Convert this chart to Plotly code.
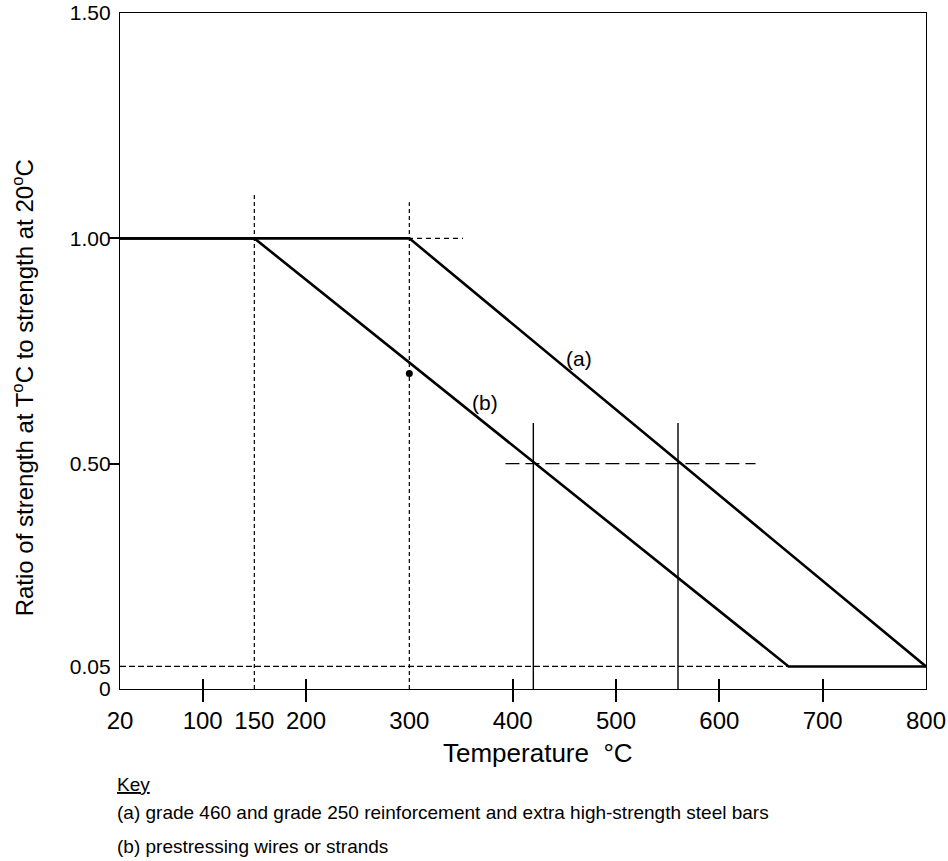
import plotly.graph_objects as go

# ---------------- data ----------------
temp_a = [20, 300, 800]
ratio_a = [1.0, 1.0, 0.05]
temp_b = [20, 150, 667, 800]
ratio_b = [1.0, 1.0, 0.05, 0.05]

x_tick_vals = [20, 100, 150, 200, 300, 400, 500, 600, 700, 800]
x_tick_marks = [100, 200, 400, 500, 600, 700]
y_tick_vals = [0, 0.05, 0.5, 1.0, 1.5]
y_tick_text = ["0", "0.05", "0.50", "1.00", "1.50"]
y_tick_marks = [0.5, 1.0]

# dashed guide lines
guide_v150_x = [150, 150]
guide_v150_y = [0, 1.10]
guide_v300_x = [300, 300]
guide_v300_y = [0, 1.08]
guide_h100_x = [20, 352]
guide_h100_y = [1.0, 1.0]
guide_h005_x = [20, 667]
guide_h005_y = [0.05, 0.05]
guide_h050_x = [393, 635]
guide_h050_y = [0.5, 0.5]
# thin solid verticals where the curves cross 0.5
cross_b_x = [420, 420]
cross_a_x = [560, 560]
cross_y = [0, 0.59]

# stray dot in the scan
dot_x = [300]
dot_y = [0.70]

label_a = dict(x=464, y=0.733, text="(a)")
label_b = dict(x=373, y=0.636, text="(b)")

x_title = "Temperature  °C"
y_title = "Ratio of strength at T<sup>o</sup>C to strength at 20<sup>o</sup>C"
key_title = "<u>Key</u>"
key_a = "(a) grade 460 and grade 250 reinforcement and extra high-strength steel bars"
key_b = "(b) prestressing wires or strands"

FONT = "Liberation Sans, Arial, Helvetica, sans-serif"

fig = go.Figure()

def guide(x, y, dash, width=1.2):
    fig.add_trace(go.Scatter(x=x, y=y, mode="lines",
                             line=dict(color="black", width=width, dash=dash),
                             hoverinfo="skip", showlegend=False))

guide(guide_v150_x, guide_v150_y, "4px,3px")
guide(guide_v300_x, guide_v300_y, "4px,3px")
guide(guide_h100_x, guide_h100_y, "5px,4px")
guide(guide_h005_x, guide_h005_y, "6px,3px")
guide(guide_h050_x, guide_h050_y, "14px,6px")
guide(cross_b_x, cross_y, "solid", 1.4)
guide(cross_a_x, cross_y, "solid", 1.4)

fig.add_trace(go.Scatter(x=temp_a, y=ratio_a, mode="lines",
                         line=dict(color="black", width=2.6),
                         name="(a)", showlegend=False))
fig.add_trace(go.Scatter(x=temp_b, y=ratio_b, mode="lines",
                         line=dict(color="black", width=2.6),
                         name="(b)", showlegend=False))
fig.add_trace(go.Scatter(x=dot_x, y=dot_y, mode="markers",
                         marker=dict(color="black", size=7),
                         hoverinfo="skip", showlegend=False))
# invisible trace so the overlay tick axis is drawn
fig.add_trace(go.Scatter(x=[20], y=[0], xaxis="x2", mode="markers",
                         marker=dict(opacity=0), hoverinfo="skip",
                         showlegend=False))

for lab in (label_a, label_b):
    fig.add_annotation(x=lab["x"], y=lab["y"], text=lab["text"],
                       showarrow=False, font=dict(size=21, color="black", family=FONT))

fig.update_layout(
    width=948, height=861,
    margin=dict(l=120, r=22, t=13, b=172),
    paper_bgcolor="white", plot_bgcolor="white",
    font=dict(family=FONT, color="black"),
    xaxis=dict(
        range=[20, 800], tickvals=x_tick_vals, automargin=False,
        ticks="outside", ticklen=10, tickcolor="rgba(0,0,0,0)",
        ticklabeloverflow="allow",
        minor=dict(tickvals=x_tick_marks, ticks="outside", ticklen=12,
                   tickcolor="black", tickwidth=1.5),
        tickfont=dict(size=24),
        showline=True, mirror=True, linecolor="black", linewidth=1.3,
        showgrid=False, zeroline=False,
    ),
    xaxis2=dict(
        range=[20, 800], overlaying="x", anchor="y", side="bottom",
        tickvals=x_tick_marks, ticks="inside", ticklen=10, automargin=False,
        tickcolor="black", tickwidth=1.5, showticklabels=False,
        showline=False, showgrid=False, zeroline=False,
    ),
    yaxis=dict(
        range=[0, 1.5], tickvals=y_tick_vals, ticktext=y_tick_text,
        automargin=False, ticklabeloverflow="allow",
        ticks="outside", ticklen=4, tickcolor="rgba(0,0,0,0)",
        minor=dict(tickvals=y_tick_marks, ticks="outside", ticklen=10,
                   tickcolor="black", tickwidth=1.5),
        tickfont=dict(size=21),
        showline=True, mirror=True, linecolor="black", linewidth=1.3,
        showgrid=False, zeroline=False,
    ),
)

# axis titles as annotations (positions match the reference)
fig.add_annotation(xref="paper", yref="paper", x=0.5186, y=-0.0943,
                   xanchor="center", yanchor="middle", showarrow=False,
                   text=x_title, font=dict(size=26))
fig.add_annotation(xref="paper", yref="paper", x=-0.1203, y=0.4448,
                   xanchor="center", yanchor="middle", showarrow=False,
                   textangle=-90, text=y_title, font=dict(size=24))

# Key below the chart
fig.add_annotation(xref="paper", yref="paper", x=-0.006, y=-0.1414,
                   xanchor="left", yanchor="middle", showarrow=False,
                   text=key_title, font=dict(size=19))
fig.add_annotation(xref="paper", yref="paper", x=-0.006, y=-0.1826,
                   xanchor="left", yanchor="middle", showarrow=False,
                   text=key_a, font=dict(size=19))
fig.add_annotation(xref="paper", yref="paper", x=-0.006, y=-0.2327,
                   xanchor="left", yanchor="middle", showarrow=False,
                   text=key_b, font=dict(size=19))

# remove the default 8px body margin so the figure fills the window exactly
fig.write_html("out.html",
               config=dict(displayModeBar=False),
               post_script="document.body.style.margin='0';"
                           "document.body.style.overflow='hidden';")
